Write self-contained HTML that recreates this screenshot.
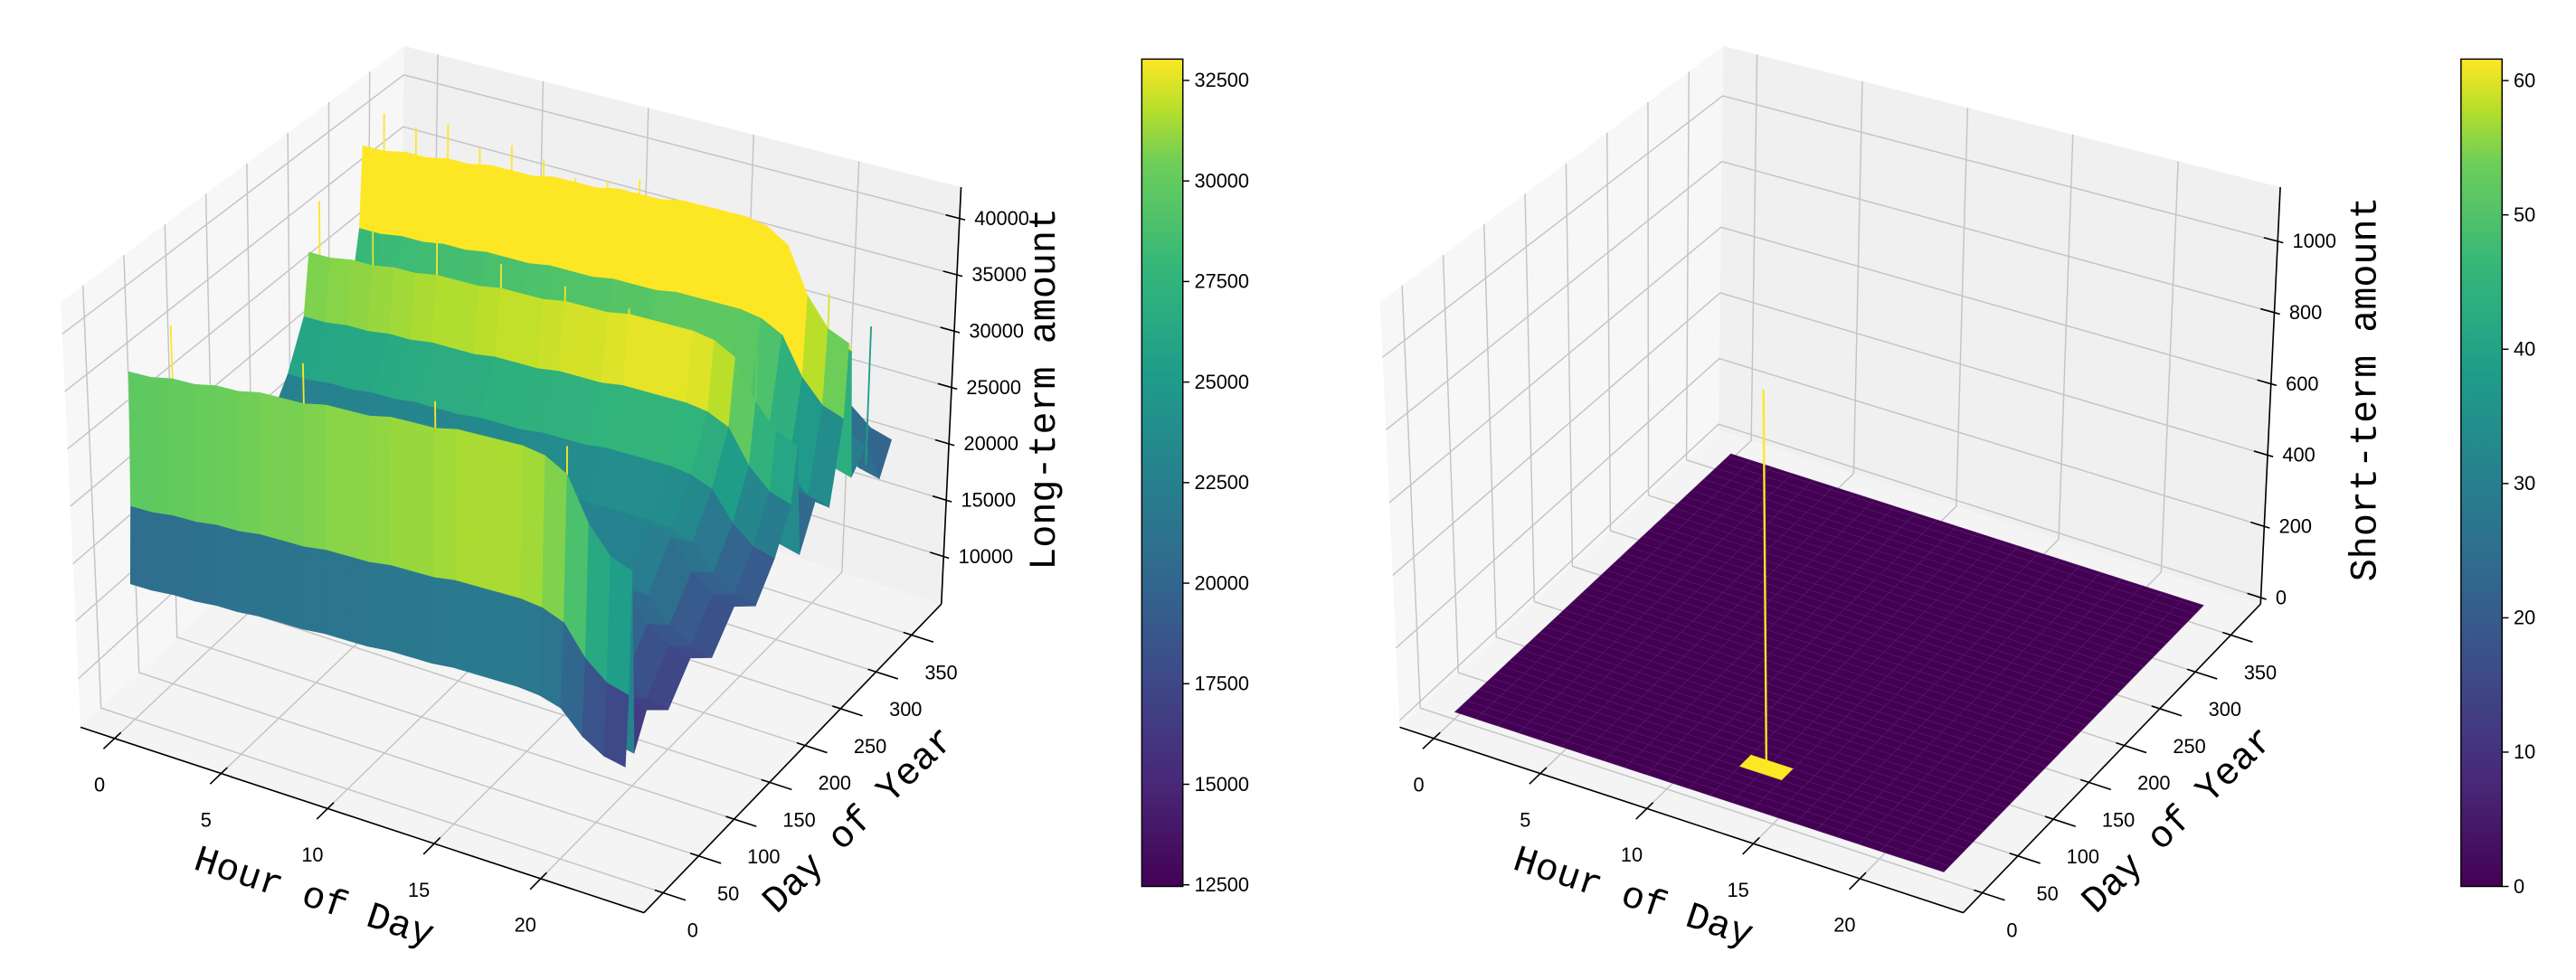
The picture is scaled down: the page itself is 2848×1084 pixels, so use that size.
<!DOCTYPE html>
<html><head><meta charset="utf-8"><style>
html,body{margin:0;padding:0;background:#fff}
svg{display:block}
text{font-family:"Liberation Sans",sans-serif;fill:#000}
.lbl{font-family:"Liberation Mono","Noto Sans CJK SC",monospace;font-size:23px}
</style></head><body>
<svg id="fig" xmlns="http://www.w3.org/2000/svg" width="2848" height="1084" viewBox="0 0 1568 597" preserveAspectRatio="none">
<rect width="1568" height="597" fill="#fff"/>
<defs>
<linearGradient id="vir" x1="0" y1="1" x2="0" y2="0">
<stop offset="0" stop-color="#440154"/><stop offset="0.125" stop-color="#482878"/><stop offset="0.25" stop-color="#3e4989"/><stop offset="0.375" stop-color="#31688e"/><stop offset="0.5" stop-color="#26828e"/><stop offset="0.625" stop-color="#1f9e89"/><stop offset="0.75" stop-color="#35b779"/><stop offset="0.875" stop-color="#6ece58"/><stop offset="0.9375" stop-color="#b5de2b"/><stop offset="1" stop-color="#fde725"/>
</linearGradient>
</defs>
<g id="left"></g>
<g id="right"></g>
<g id="cbars"></g>
</svg>
<script>
const hourTicks=[0,5,10,15,20];
const dayTicks=[0,50,100,150,200,250,300,350];
const longZTicks=[10000,15000,20000,25000,30000,35000,40000];
const shortZTicks=[0,200,400,600,800,1000];
const longCbarTicks=[12500,15000,17500,20000,22500,25000,27500,30000,32500];
const shortCbarTicks=[0,10,20,30,40,50,60];
const hours=[0,1,2,3,4,5,6,7,8,9,10,11,12,13,14,15,16,17,18,19,20,21,22,23];
const hourFactor=[1.00,1.00,1.01,1.01,1.02,1.02,1.03,1.03,1.03,1.04,1.04,1.04,1.05,1.05,1.05,1.06,1.06,1.06,1.06,1.05,1.02,0.92,0.86,0.84];
const longDays=[1,5,9,13,30,60,90,120,150,180,205,226,233,240,260,280,296,300,304,310,330,350,365];
const longLevels=[17500,24000,35500,18000,21000,19000,22000,20000,23000,21000,24000,28000,33500,22000,26000,24000,32000,39500,38500,25000,27000,22000,25000];
const longSpikeHours=[1,2.5,4,5.5,7,8.5,10,11.5,13,14.5,16,17.5,19,20.5,22,0.5,3,6,9,12,15,18,21,2,8,14,20,23];
const longSpikeDays=[300,300,300,300,300,300,300,300,300,300,300,300,300,300,300,233,233,233,233,233,233,233,233,9,9,9,9,330];
const longSpikeValues=[43000,42500,43500,42000,43000,42500,41500,42000,42800,41000,41500,40500,40000,38000,37000,38500,37500,38000,37000,36500,36000,35500,35000,40500,40000,39500,38500,33000];
const shortDays=[1,9,17,25,33,41,49,57,65,73,81,89,97,105,113,121,129,137,145,153,161,169,177,185,193,201,209,217,225,233,241,249,257,265,273,281,289,297,305,313,321,329,337,345,353,361,365];
const shortSpikeHour=[13];
const shortSpikeDay=[49];
const shortSpikeValue=[1000];

const NS="http://www.w3.org/2000/svg";
function mk(parent,tag,attrs,txt){const e=document.createElementNS(NS,tag);for(const k in attrs)e.setAttribute(k,attrs[k]);if(txt!==undefined)e.textContent=txt;parent.appendChild(e);return e;}
const VS=[[0,'#440154'],[0.125,'#482878'],[0.25,'#3e4989'],[0.375,'#31688e'],[0.5,'#26828e'],[0.625,'#1f9e89'],[0.75,'#35b779'],[0.875,'#6ece58'],[0.9375,'#b5de2b'],[1,'#fde725']];
function hx(c){return [parseInt(c.slice(1,3),16),parseInt(c.slice(3,5),16),parseInt(c.slice(5,7),16)];}
function viridis(t){t=Math.max(0,Math.min(1,t));for(let i=1;i<VS.length;i++){if(t<=VS[i][0]){const a=hx(VS[i-1][1]),b=hx(VS[i][1]);const f=(t-VS[i-1][0])/(VS[i][0]-VS[i-1][0]);return 'rgb('+a.map((v,k)=>Math.round(v+(b[k]-v)*f)).join(',')+')';}}return VS[VS.length-1][1];}

function makeAxes(dx,zmin,zmax){
  const C={p000:[49+dx,443],p100:[392+dx,556],p110:[573+dx,368],p010:[243+dx,262],p001:[37+dx,184],p101:[394+dx,268],p111:[585+dx,114],p011:[246+dx,28]};
  const L=(a,b,t)=>[a[0]+(b[0]-a[0])*t,a[1]+(b[1]-a[1])*t];
  function P(u,v,w){const a=L(C.p000,C.p100,u),b=L(C.p010,C.p110,u),c=L(C.p001,C.p101,u),d=L(C.p011,C.p111,u);return L(L(a,b,v),L(c,d,v),w);}
  return {P,hu:h=>(h+1.6)/26.45,dv:d=>(d+27)/419,zw:z=>(z-zmin)/(zmax-zmin)};
}
function pts(arr){return arr.map(p=>p[0].toFixed(2)+','+p[1].toFixed(2)).join(' ');}

function drawFrame(g,A,zTicks,xlabel,ylabel,zlabel,dx){
  const P=A.P;
  const lw=mk(g,'polygon',{points:pts([P(0,0,0),P(0,1,0),P(0,1,1),P(0,0,1)]),fill:'#f7f7f7'});
  
  const bw=mk(g,'polygon',{points:pts([P(0,1,0),P(1,1,0),P(1,1,1),P(0,1,1)]),fill:'#f0f0f0'});
  
  const fl=mk(g,'polygon',{points:pts([P(0,0,0),P(1,0,0),P(1,1,0),P(0,1,0)]),fill:'#f4f4f4'});
  
  const grid=mk(g,'g',{stroke:'#c4c4c4','stroke-width':0.8,fill:'none'});
  
  hourTicks.forEach(h=>{const u=A.hu(h);mk(grid,'polyline',{points:pts([P(u,0,0),P(u,1,0),P(u,1,1)])});});
  dayTicks.forEach(d=>{const v=A.dv(d);mk(grid,'polyline',{points:pts([P(1,v,0),P(0,v,0),P(0,v,1)])});});
  zTicks.forEach(z=>{const w=A.zw(z);mk(grid,'polyline',{points:pts([P(0,0,w),P(0,1,w),P(1,1,w)])});});
  const ax=mk(g,'g',{stroke:'#000','stroke-width':0.9,fill:'none'});
  
  mk(ax,'line',{x1:P(0,0,0)[0],y1:P(0,0,0)[1],x2:P(1,0,0)[0],y2:P(1,0,0)[1]});
  mk(ax,'line',{x1:P(1,0,0)[0],y1:P(1,0,0)[1],x2:P(1,1,0)[0],y2:P(1,1,0)[1]});
  mk(ax,'line',{x1:P(1,1,0)[0],y1:P(1,1,0)[1],x2:P(1,1,1)[0],y2:P(1,1,1)[1]});
  hourTicks.forEach(h=>{const u=A.hu(h);const a=P(u,0.02,0),b=P(u,-0.035,0);mk(ax,'line',{x1:a[0],y1:a[1],x2:b[0],y2:b[1]});
    const t=mk(g,'text',{x:a[0]-13,y:a[1]+36,'font-size':12,'text-anchor':'middle'},String(h));
    });
  dayTicks.forEach(d=>{const v=A.dv(d);const a=P(0.985,v,0),b=P(1.04,v,0);mk(ax,'line',{x1:a[0],y1:a[1],x2:b[0],y2:b[1]});
    const p=P(1,v,0);const t=mk(g,'text',{x:p[0]+18,y:p[1]+27,'font-size':12,'text-anchor':'middle'},String(d));
    });
  zTicks.forEach(z=>{const w=A.zw(z);const a=P(0.975,1,w),b=P(1.01,1,w);mk(ax,'line',{x1:a[0],y1:a[1],x2:b[0],y2:b[1]});
    const p=P(1,1,w);const t=mk(g,'text',{x:p[0]+9,y:p[1]+4,'font-size':12,'text-anchor':'start'},String(z));
    });
  const xl=mk(g,'text',{class:'lbl',x:191+dx,y:547,'text-anchor':'middle','dominant-baseline':'middle',transform:`rotate(18.2 ${191+dx} 547)`},xlabel);
  
  const yl=mk(g,'text',{class:'lbl',x:523+dx,y:500,'text-anchor':'middle','dominant-baseline':'middle',transform:`rotate(-44 ${523+dx} 500)`},ylabel);
  
  const zx=(dx?1440:636);
  const zl=mk(g,'text',{class:'lbl',x:zx,y:237,'font-size':22,'text-anchor':'middle','dominant-baseline':'middle',transform:`rotate(-90 ${zx} 237)`},zlabel);
  
}

// LEFT
(function(){
  const g=document.getElementById('left');
  const A=makeAxes(0,5780,42780);
  drawFrame(g,A,longZTicks,'Hour of Day','Day of Year','Long-term amount',0);
  const sg=mk(g,'g',{});
  
  const cmin=12460,cmax=33030;
  const Z=(i,j)=>longLevels[j]*hourFactor[i];
  const items=[];
  for(let j=0;j<longDays.length-1;j++)for(let i=0;i<hours.length-1;i++){
    const u0=A.hu(hours[i]),u1=A.hu(hours[i+1]),v0=A.dv(longDays[j]),v1=A.dv(longDays[j+1]);
    const zs=[Z(i,j),Z(i+1,j),Z(i+1,j+1),Z(i,j+1)];
    const avg=(zs[0]+zs[1]+zs[2]+zs[3])/4;
    items.push({j,i:i,type:'f',p:[A.P(u0,v0,A.zw(zs[0])),A.P(u1,v0,A.zw(zs[1])),A.P(u1,v1,A.zw(zs[2])),A.P(u0,v1,A.zw(zs[3]))],c:viridis((avg-cmin)/(cmax-cmin))});
  }
  for(let k=0;k<longSpikeDays.length;k++){
    let j=0;while(j<longDays.length-2&&longDays[j+1]<=longSpikeDays[k])j++;
    const hi=Math.min(22,Math.floor(longSpikeHours[k]));
    const base=longLevels[j]*hourFactor[hi];
    const u=A.hu(longSpikeHours[k]),v=A.dv(longSpikeDays[k]);
    items.push({j:j-0.5,i:hi+0.5,type:'n',a:A.P(u,v,A.zw(base*0.9)),b:A.P(u,v,A.zw(longSpikeValues[k])),c:viridis(((base+longSpikeValues[k])/2-cmin-3000)/(cmax-cmin))});
  }
  items.sort((a,b)=>(b.j-a.j)||(a.i-b.i));
  items.forEach(f=>{
    if(f.type==='f'){const e=mk(sg,'polygon',{points:pts(f.p),fill:f.c,stroke:f.c,'stroke-width':0.4});
      
      }
    else{const e=mk(sg,'line',{x1:f.a[0],y1:f.a[1],x2:f.b[0],y2:f.b[1],stroke:f.c,'stroke-width':1});
      
      }
  });
})();

// RIGHT
(function(){
  const g=document.getElementById('right');
  const A=makeAxes(803,-18,1152);
  drawFrame(g,A,shortZTicks,'Hour of Day','Day of Year','Short-term amount',803);
  const sg=mk(g,'g',{});
  
  const cmin=0,cmax=61.6;
  function val(i,j){for(let k=0;k<shortSpikeHour.length;k++){if(hours[i]===shortSpikeHour[k]&&shortDays[j]===shortSpikeDay[k])return shortSpikeValue[k];}return 0;}
  for(let j=shortDays.length-2;j>=0;j--)for(let i=0;i<hours.length-1;i++){
    const u0=A.hu(hours[i]),u1=A.hu(hours[i+1]),v0=A.dv(shortDays[j]),v1=A.dv(shortDays[j+1]);
    const avg=(val(i,j)+val(i+1,j)+val(i+1,j+1)+val(i,j+1))/4;
    const w=A.zw(0);
    const c=viridis((avg-cmin)/(cmax-cmin));
    const e=mk(sg,'polygon',{points:pts([A.P(u0,v0,w),A.P(u1,v0,w),A.P(u1,v1,w),A.P(u0,v1,w)]),fill:c,stroke:avg>0?c:'#55206c','stroke-width':0.3});
    
    
  }
  for(let k=0;k<shortSpikeHour.length;k++){
    const u=A.hu(shortSpikeHour[k]),v=A.dv(shortSpikeDay[k]);
    const a=A.P(u,v,A.zw(0)),b=A.P(u,v,A.zw(shortSpikeValue[k]));
    const e=mk(sg,'line',{x1:a[0],y1:a[1],x2:b[0],y2:b[1],stroke:'#fde725','stroke-width':1.3});
    
    
  }
})();

// COLORBARS
(function(){
  const g=document.getElementById('cbars');
  function cbar(x,ticks,vmin,vmax,name){
    const cg=mk(g,'g',{});
    
    
    mk(cg,'rect',{x:x,y:36,width:25,height:504,fill:'url(#vir)',stroke:'#000','stroke-width':0.8});
    ticks.forEach(t=>{const y=540-(t-vmin)/(vmax-vmin)*504;
      mk(cg,'line',{x1:x+25,y1:y,x2:x+29,y2:y,stroke:'#000','stroke-width':0.8});
      const tx=mk(cg,'text',{x:x+32,y:y+4,'font-size':12},String(t));
      
      });
  }
  cbar(695,longCbarTicks,12460,33030,'long-term-colorbar');
  cbar(1498,shortCbarTicks,0,61.6,'short-term-colorbar');
})();
</script>
</body></html>
